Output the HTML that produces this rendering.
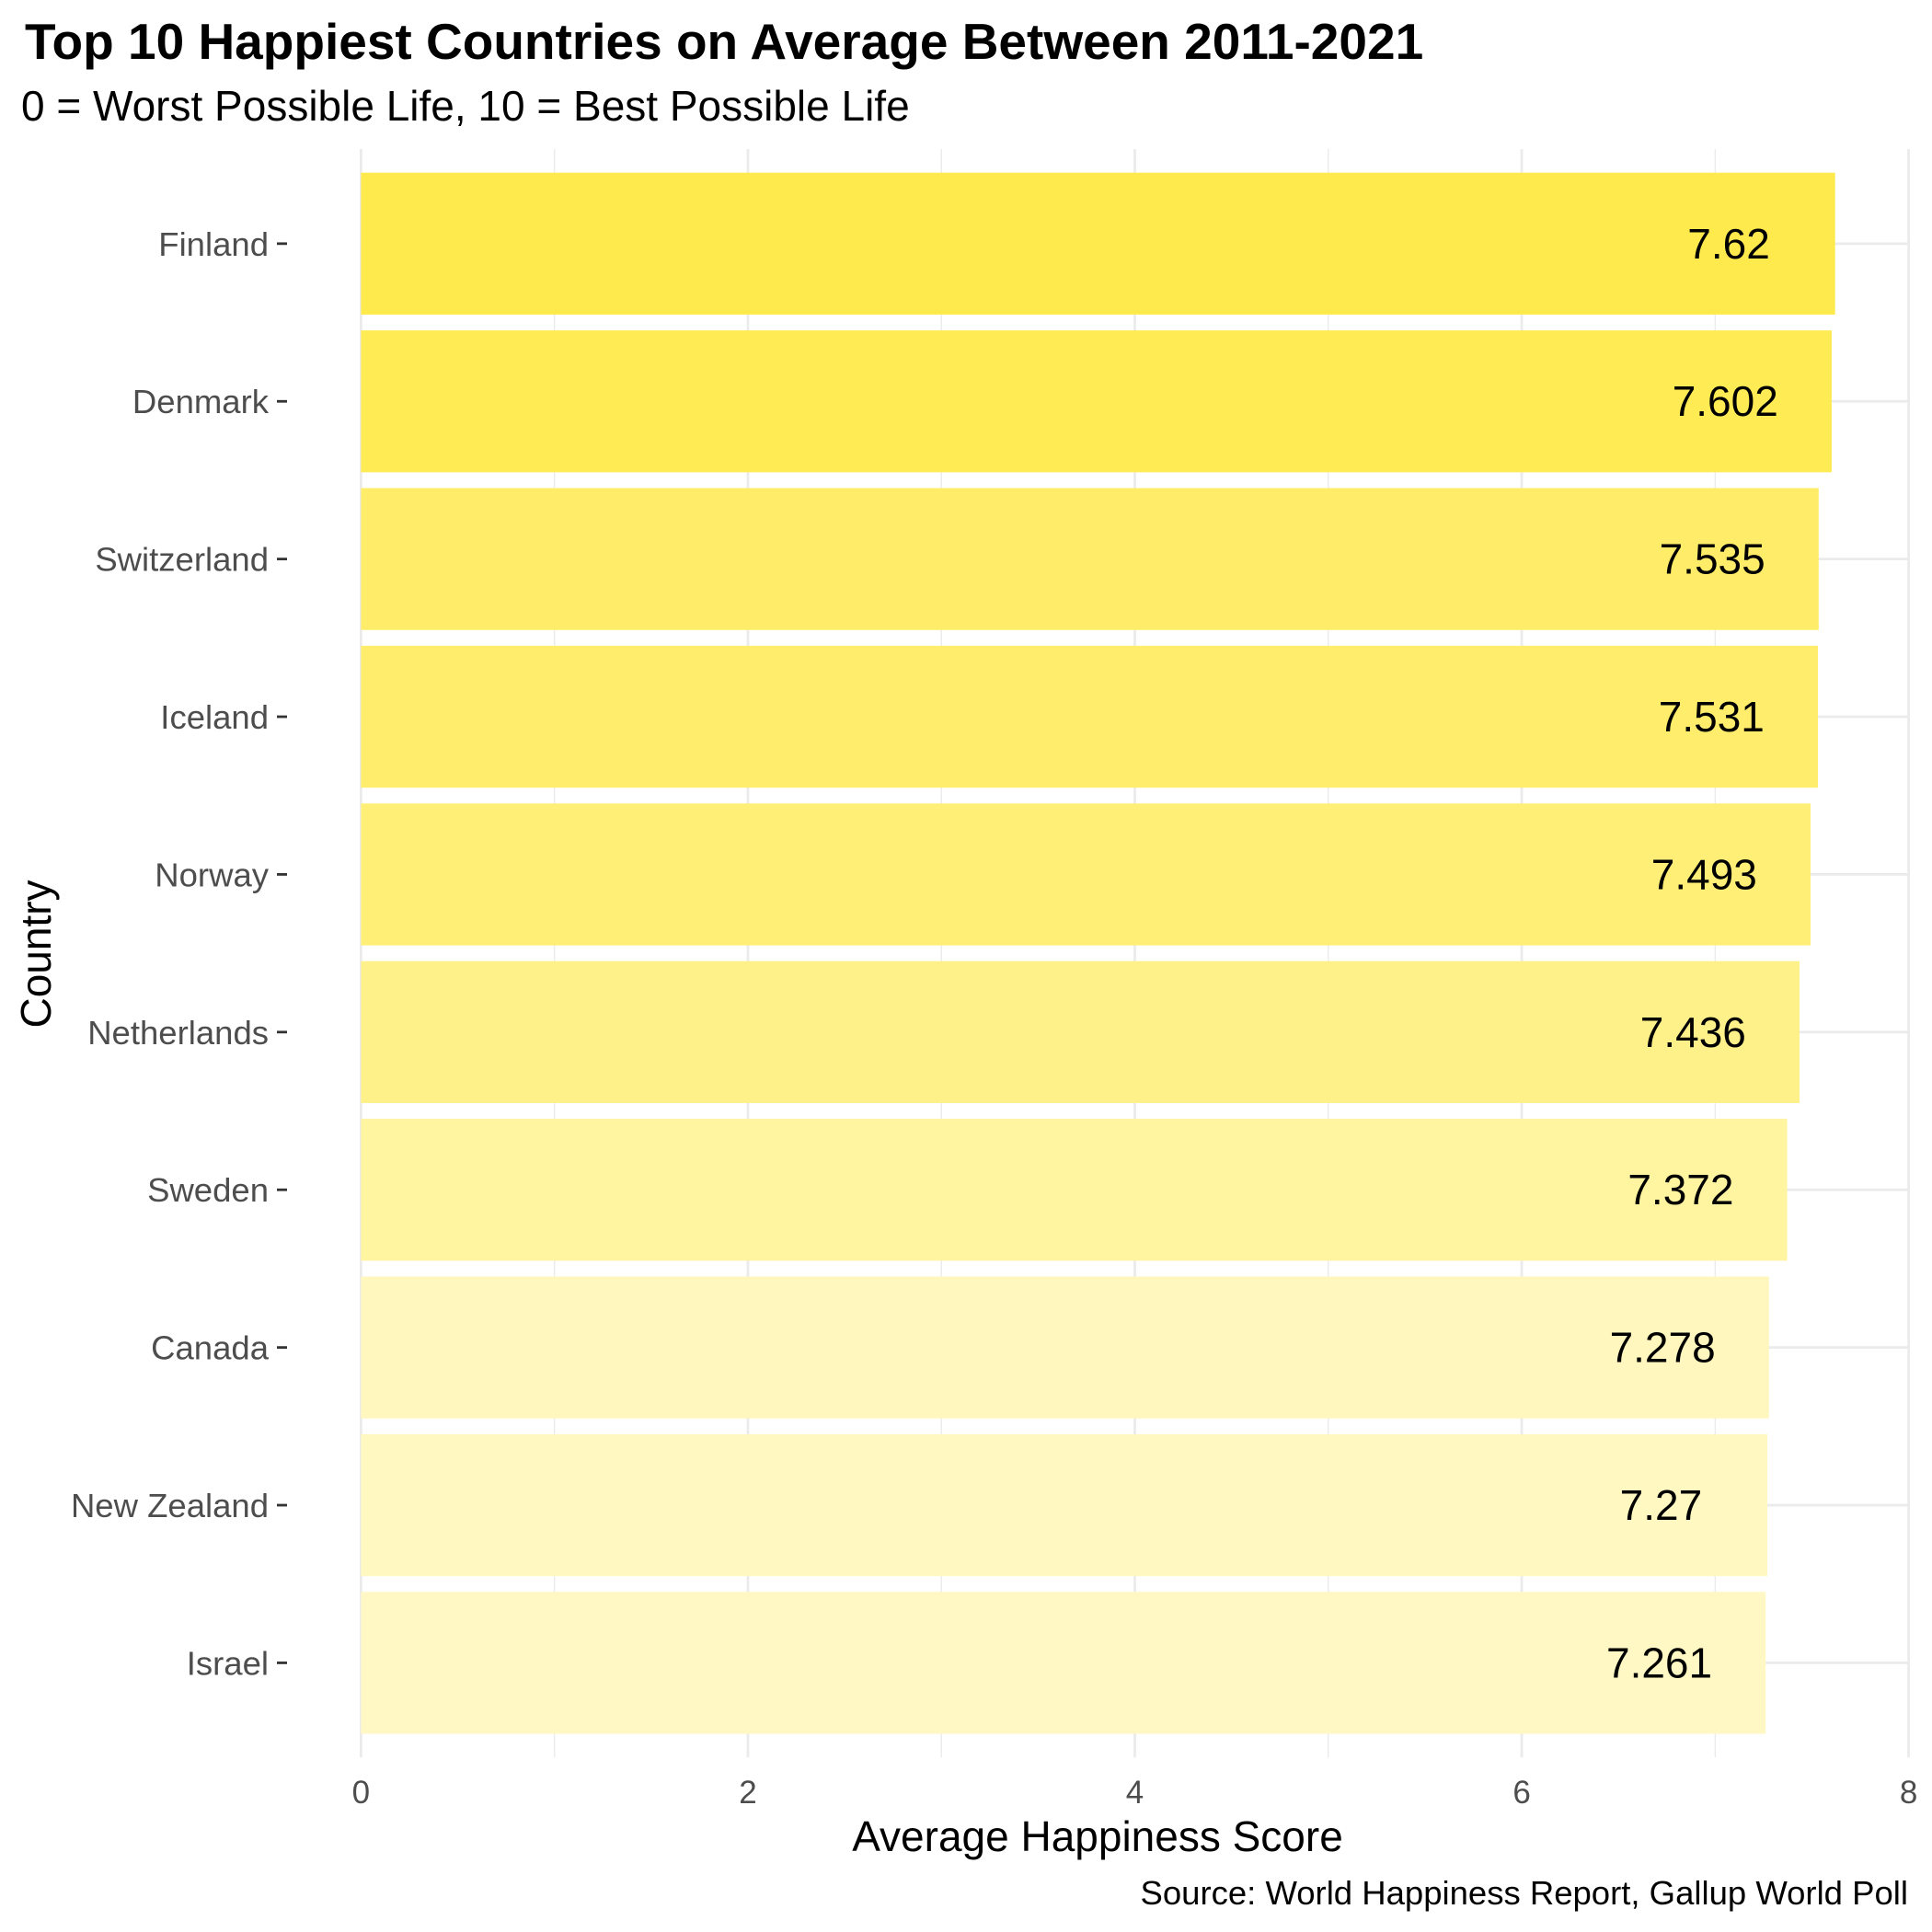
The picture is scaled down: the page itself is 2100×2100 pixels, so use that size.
<!DOCTYPE html>
<html><head><meta charset="utf-8"><style>
body{margin:0;background:#fff}
svg{display:block;font-family:"Liberation Sans",Arial,sans-serif}
</style></head><body>
<svg id="c" width="2100" height="2100" viewBox="0 0 2100 2100">
<text x="27" y="64" font-size="55" font-weight="bold" fill="#000">Top 10 Happiest Countries on Average Between 2011-2021</text>
<text x="23" y="131" font-size="46" fill="#000">0 = Worst Possible Life, 10 = Best Possible Life</text>
<g id="grid"></g><g id="bars"></g><g id="axes"></g>
<text x="1193" y="2012" font-size="46" text-anchor="middle" fill="#000">Average Happiness Score</text>
<text transform="translate(55,1037) rotate(-90)" font-size="46" text-anchor="middle" fill="#000">Country</text>
<text x="2074" y="2070" font-size="36.5" text-anchor="end" fill="#000">Source: World Happiness Report, Gallup World Poll</text>
</svg>
<script>
const countries=["Finland","Denmark","Switzerland","Iceland","Norway","Netherlands","Sweden","Canada","New Zealand","Israel"];
const scores=[7.62,7.602,7.535,7.531,7.493,7.436,7.372,7.278,7.27,7.261];
const labels=["7.62","7.602","7.535","7.531","7.493","7.436","7.372","7.278","7.27","7.261"];
const xTicks=[0,2,4,6,8];
const xMinor=[1,3,5,7];
const NS="http://www.w3.org/2000/svg";
const X0=392.4,X1=2074.6,TOP=162,STEP=171.4;
const xs=v=>X0+(X1-X0)*v/8;
const ys=i=>TOP+0.6*STEP+i*STEP;
const BOT=ys(countries.length-1)+0.6*STEP;
function mk(p,t,a){const e=document.createElementNS(NS,t);for(const k in a)e.setAttribute(k,a[k]);p.appendChild(e);return e;}
const grid=document.getElementById('grid'),bars=document.getElementById('bars'),axes=document.getElementById('axes');
xMinor.forEach(v=>{const l=mk(grid,'line',{x1:xs(v),x2:xs(v),y1:TOP,y2:BOT,stroke:'#ebebeb','stroke-width':1.4});

});
xTicks.forEach(v=>{const l=mk(grid,'line',{x1:xs(v),x2:xs(v),y1:TOP,y2:BOT,stroke:'#ebebeb','stroke-width':2.8});


const t=mk(axes,'text',{x:xs(v),y:1960,'font-size':35,'text-anchor':'middle',fill:'#4d4d4d'});t.textContent=v;

});
const mn=Math.min(...scores),mx=Math.max(...scores);
const c1=[255,248,196],c2=[255,234,77];
countries.forEach((c,i)=>{const y=ys(i);
const l=mk(grid,'line',{x1:X0,x2:X1,y1:y,y2:y,stroke:'#ebebeb','stroke-width':2.8});


const f=(scores[i]-mn)/(mx-mn||1);
const col=`rgb(${c1.map((a,k)=>Math.round(a+(c2[k]-a)*f)).join(',')})`;
const r=mk(bars,'rect',{x:xs(0),y:y-0.45*STEP,width:xs(scores[i])-xs(0),height:0.9*STEP,fill:col});


const vt=mk(bars,'text',{x:xs(scores[i]-0.55),y:y+16,'font-size':46,'text-anchor':'middle',fill:'#000'});vt.textContent=labels[i];


const tk=mk(axes,'line',{x1:301,x2:312,y1:y,y2:y,stroke:'#333','stroke-width':2.8});


const t=mk(axes,'text',{x:292,y:y+13,'font-size':36.5,'text-anchor':'end',fill:'#4d4d4d'});t.textContent=c;

});
</script>
</body></html>
